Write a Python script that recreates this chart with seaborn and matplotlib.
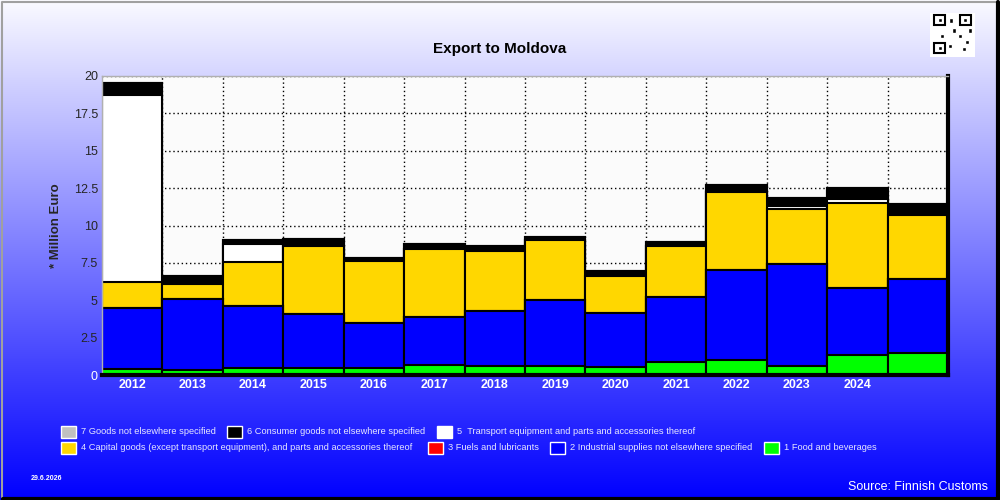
import numpy as np
import pandas as pd
import matplotlib
matplotlib.use("Agg")
import matplotlib.pyplot as plt
from matplotlib.patches import Rectangle
import seaborn as sns

# ---- data (million euro) ----
years = ['2012', '2013', '2014', '2015', '2016', '2017', '2018',
         '2019', '2020', '2021', '2022', '2023', '2024', '2025']
tick_labels = ['2012', '2013', '2014', '2015', '2016', '2017', '2018',
               '2019', '2020', '2021', '2022', '2023', '2024', '']

food = [0.40, 0.35, 0.50, 0.45, 0.50, 0.70, 0.62, 0.63, 0.55, 0.85, 0.98, 0.60, 1.35, 1.50]
industrial = [4.10, 4.75, 4.10, 3.60, 3.00, 3.20, 3.68, 4.37, 3.60, 4.40, 6.02, 6.80, 4.45, 4.95]
fuels = [0.0] * 14
capital = [1.70, 1.00, 2.95, 4.55, 4.10, 4.55, 4.00, 4.00, 2.50, 3.35, 5.25, 3.70, 5.70, 4.25]
transport = [12.55, 0.0, 1.20, 0.0, 0.0, 0.0, 0.0, 0.0, 0.0, 0.0, 0.0, 0.20, 0.30, 0.0]
consumer = [0.75, 0.55, 0.25, 0.50, 0.20, 0.30, 0.30, 0.20, 0.30, 0.30, 0.45, 0.55, 0.70, 0.75]
other = [0.0] * 14

cat_names = ['1 Food and beverages',
             '2 Industrial supplies not elsewhere specified',
             '3 Fuels and lubricants',
             '4 Capital goods (except transport equipment), and parts and accessories thereof',
             '5  Transport equipment and parts and accessories thereof',
             '6 Consumer goods not elsewhere specified',
             '7 Goods not elsewhere specified']
cat_colors = ['#00ff00', '#0000ff', '#ff0000', '#ffd700', '#ffffff', '#000000', '#c0c0c0']
series = [food, industrial, fuels, capital, transport, consumer, other]

df = pd.DataFrame({'Year': years})
cum = np.zeros(len(years))
for name, vals in zip(cat_names, series):
    cum = cum + np.array(vals)
    df[name] = cum

# ---- figure ----
sns.set_style('white')
plt.rcParams['font.family'] = ['Liberation Sans', 'DejaVu Sans']

fig = plt.figure(figsize=(10, 5), dpi=100)

# gradient background
bg = fig.add_axes([0, 0, 1, 1], zorder=0)
grad = np.linspace(0, 1, 256).reshape(-1, 1)
top_c = np.array([250, 250, 255]) / 255
bot_c = np.array([0, 0, 255]) / 255
img = top_c[None, None, :] * (1 - grad[:, :, None]) + bot_c[None, None, :] * grad[:, :, None]
bg.imshow(np.repeat(img, 2, axis=1), aspect='auto', extent=[0, 1, 0, 1])
bg.set_xlim(0, 1)
bg.set_ylim(0, 1)
bg.axis('off')
# frame with shadow
bg.plot([0.002, 0.002, 0.997], [0.004, 0.997, 0.997], color='#a0a0a0', lw=1.5)
bg.plot([0.003, 0.998, 0.998], [0.003, 0.003, 0.996], color='black', lw=3)

# QR-ish badge
bg.add_patch(Rectangle((0.930, 0.886), 0.045, 0.088, facecolor='white', edgecolor='none'))
for (qx, qy) in [(0.934, 0.950), (0.960, 0.950), (0.934, 0.894)]:
    bg.add_patch(Rectangle((qx, qy), 0.011, 0.020, facecolor='none', edgecolor='black', lw=1.5))
    bg.add_patch(Rectangle((qx + 0.0035, qy + 0.0065), 0.004, 0.007, facecolor='black'))
for (qx, qy) in [(0.949, 0.955), (0.952, 0.935), (0.958, 0.925), (0.965, 0.912),
                 (0.948, 0.905), (0.962, 0.898), (0.940, 0.925), (0.968, 0.935)]:
    bg.add_patch(Rectangle((qx, qy), 0.004, 0.008, facecolor='black'))

ax = fig.add_axes([0.102, 0.25, 0.846, 0.598], zorder=1)
ax.set_facecolor('#fbfbfb')

# stacked bars: draw cumulative totals from the top category down
for name, color in reversed(list(zip(cat_names, cat_colors))):
    sns.barplot(data=df, x='Year', y=name, color=color, saturation=1,
                width=1.0, edgecolor='black', linewidth=1.5, ax=ax, zorder=2)

ax.set_xlim(-0.5, len(years) - 0.5)
ax.set_ylim(0, 20)
ax.set_yticks(np.arange(0, 20.1, 2.5))
ax.set_yticklabels(['0', '2.5', '5', '7.5', '10', '12.5', '15', '17.5', '20'], fontsize=9)
ax.get_yticklabels()[0].set_color('white')
ax.set_xticks(range(len(years)))
ax.set_xticklabels(tick_labels, fontsize=9, fontweight='bold', color='white')
ax.set_xticks(np.arange(0.5, len(years) - 1, 1), minor=True)
ax.tick_params(axis='x', which='major', length=0, pad=3)
ax.tick_params(axis='x', which='minor', length=4, color='black', width=1)
ax.tick_params(axis='y', length=0, pad=3)

ax.set_axisbelow(True)
ax.grid(False)
ax.grid(True, axis='x', which='minor', color='black', linestyle=(0, (1, 2)), linewidth=1)
ax.grid(True, axis='y', which='major', color='black', linestyle=(0, (1, 2)), linewidth=1)

ax.set_xlabel('')
ax.set_ylabel('* Million Euro', fontsize=9.5, fontweight='bold', labelpad=8)

for side in ['left', 'top']:
    ax.spines[side].set_color('#b0b0b0')
    ax.spines[side].set_linewidth(1)
for side in ['right', 'bottom']:
    ax.spines[side].set_color('black')
    ax.spines[side].set_linewidth(3)

fig.text(0.5, 0.902, 'Export to Moldova', ha='center', va='center',
         fontsize=11, fontweight='bold', color='black')

# legend, laid out like the reference
leg_rows = [
    [(6, 0.061, 0.081), (5, 0.227, 0.247), (4, 0.437, 0.457)],
    [(3, 0.061, 0.081), (2, 0.428, 0.448), (1, 0.550, 0.570), (0, 0.764, 0.784)],
]
row_ys = [1 - 432 / 500, 1 - 448 / 500]
for ry, row in zip(row_ys, leg_rows):
    for idx, bx, tx in row:
        bg.add_patch(Rectangle((bx, ry - 0.011), 0.0145, 0.023, facecolor=cat_colors[idx],
                               edgecolor='white', lw=1))
        fig.text(tx, ry, cat_names[idx], ha='left', va='center', fontsize=6.7, color='#e6e6ff')

fig.text(0.031, 1 - 479 / 500, '29.6.2026', ha='left', va='center', fontsize=5,
         fontweight='bold', color='white')
fig.text(0.988, 1 - 487 / 500, 'Source: Finnish Customs', ha='right', va='center',
         fontsize=9, color='white')

fig.savefig('out.png', dpi=100)
